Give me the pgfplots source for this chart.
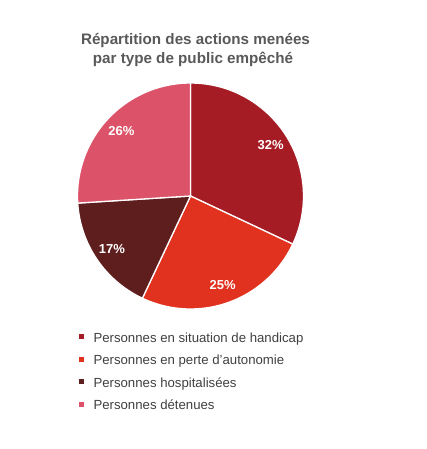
\documentclass[border=0pt]{standalone}
\usepackage{pgfplots}
\usepackage{pgfplotstable}
\usepackage{fontspec}
\setmainfont{Liberation Sans}
\pgfplotsset{compat=1.18}
\definecolor{c1}{RGB}{165,28,36}
\definecolor{c2}{RGB}{224,50,30}
\definecolor{c3}{RGB}{94,30,30}
\definecolor{c4}{RGB}{220,82,105}
\definecolor{titlegray}{RGB}{89,89,89}
\definecolor{textgray}{RGB}{64,64,64}

\pgfplotstableread{
value color
32 c1
25 c2
17 c3
26 c4
}\piedata

% build the slices from the table
\gdef\pieslices{}
\pgfmathsetmacro{\startang}{90}
\pgfplotstablegetrowsof{\piedata}
\pgfmathtruncatemacro{\lastrow}{\pgfplotsretval-1}
\pgfplotsforeachungrouped \i in {0,...,\lastrow}{%
  \pgfplotstablegetelem{\i}{value}\of\piedata
  \let\val\pgfplotsretval
  \pgfplotstablegetelem{\i}{color}\of\piedata
  \let\col\pgfplotsretval
  \pgfmathsetmacro{\endang}{\startang-\val*3.6}
  \pgfmathsetmacro{\midang}{(\startang+\endang)/2}
  \xdef\pieslices{\unexpanded\expandafter{\pieslices}%
    \noexpand\fill[\col, draw=white, line width=1.3pt, line join=round]
      (axis cs:0,0) -- (axis cs:{cos(\startang)},{sin(\startang)})
      arc[start angle=\startang, end angle=\endang, radius=113pt] -- cycle;
    \noexpand\node[text=white, font=\noexpand\fontsize{13}{15}\noexpand\selectfont\noexpand\bfseries]
      at (axis cs:{0.84*cos(\midang)},{0.84*sin(\midang)}) {\val\noexpand\%};
  }%
  \global\let\startang\endang
}

\begin{document}
\begin{tikzpicture}
\path[use as bounding box] (0,0) rectangle (427pt,449pt);
\begin{axis}[
  at={(190.5pt,253pt)}, anchor=center,
  scale only axis, width=226pt, height=226pt,
  xmin=-1, xmax=1, ymin=-1, ymax=1,
  hide axis, clip=false,
  legend style={draw=none, fill=none, inner sep=0pt, outer sep=0pt,
    at={(axis cs:-0.984,-1.208)}, anchor=north west,
    row sep=10.1pt,
    nodes={inner sep=0pt, text height=9.5pt, text depth=3pt,
      font=\fontsize{13.2}{15}\selectfont, text=textgray},
    /tikz/every odd column/.append style={column sep=10pt}},
  legend cell align=left,
]
\pieslices
\addlegendimage{legend image code/.code={\fill[c1] (0pt,0.6pt) rectangle (3.8pt,4.4pt);}}
\addlegendentry{Personnes en situation de handicap}
\addlegendimage{legend image code/.code={\fill[c2] (0pt,0.6pt) rectangle (3.8pt,4.4pt);}}
\addlegendentry{Personnes en perte d'autonomie}
\addlegendimage{legend image code/.code={\fill[c3] (0pt,0.6pt) rectangle (3.8pt,4.4pt);}}
\addlegendentry{Personnes hospitalisées}
\addlegendimage{legend image code/.code={\fill[c4] (0pt,0.6pt) rectangle (3.8pt,4.4pt);}}
\addlegendentry{Personnes détenues}
\end{axis}
\node[anchor=base, text=titlegray, font=\fontsize{15.2}{18}\selectfont\bfseries, inner sep=0pt]
  at (195.5pt,{449pt-44.3pt}) {Répartition des actions menées};
\node[anchor=base, text=titlegray, font=\fontsize{15.2}{18}\selectfont\bfseries, inner sep=0pt]
  at (193pt,{449pt-63.3pt}) {par type de public empêché};
\end{tikzpicture}
\end{document}
